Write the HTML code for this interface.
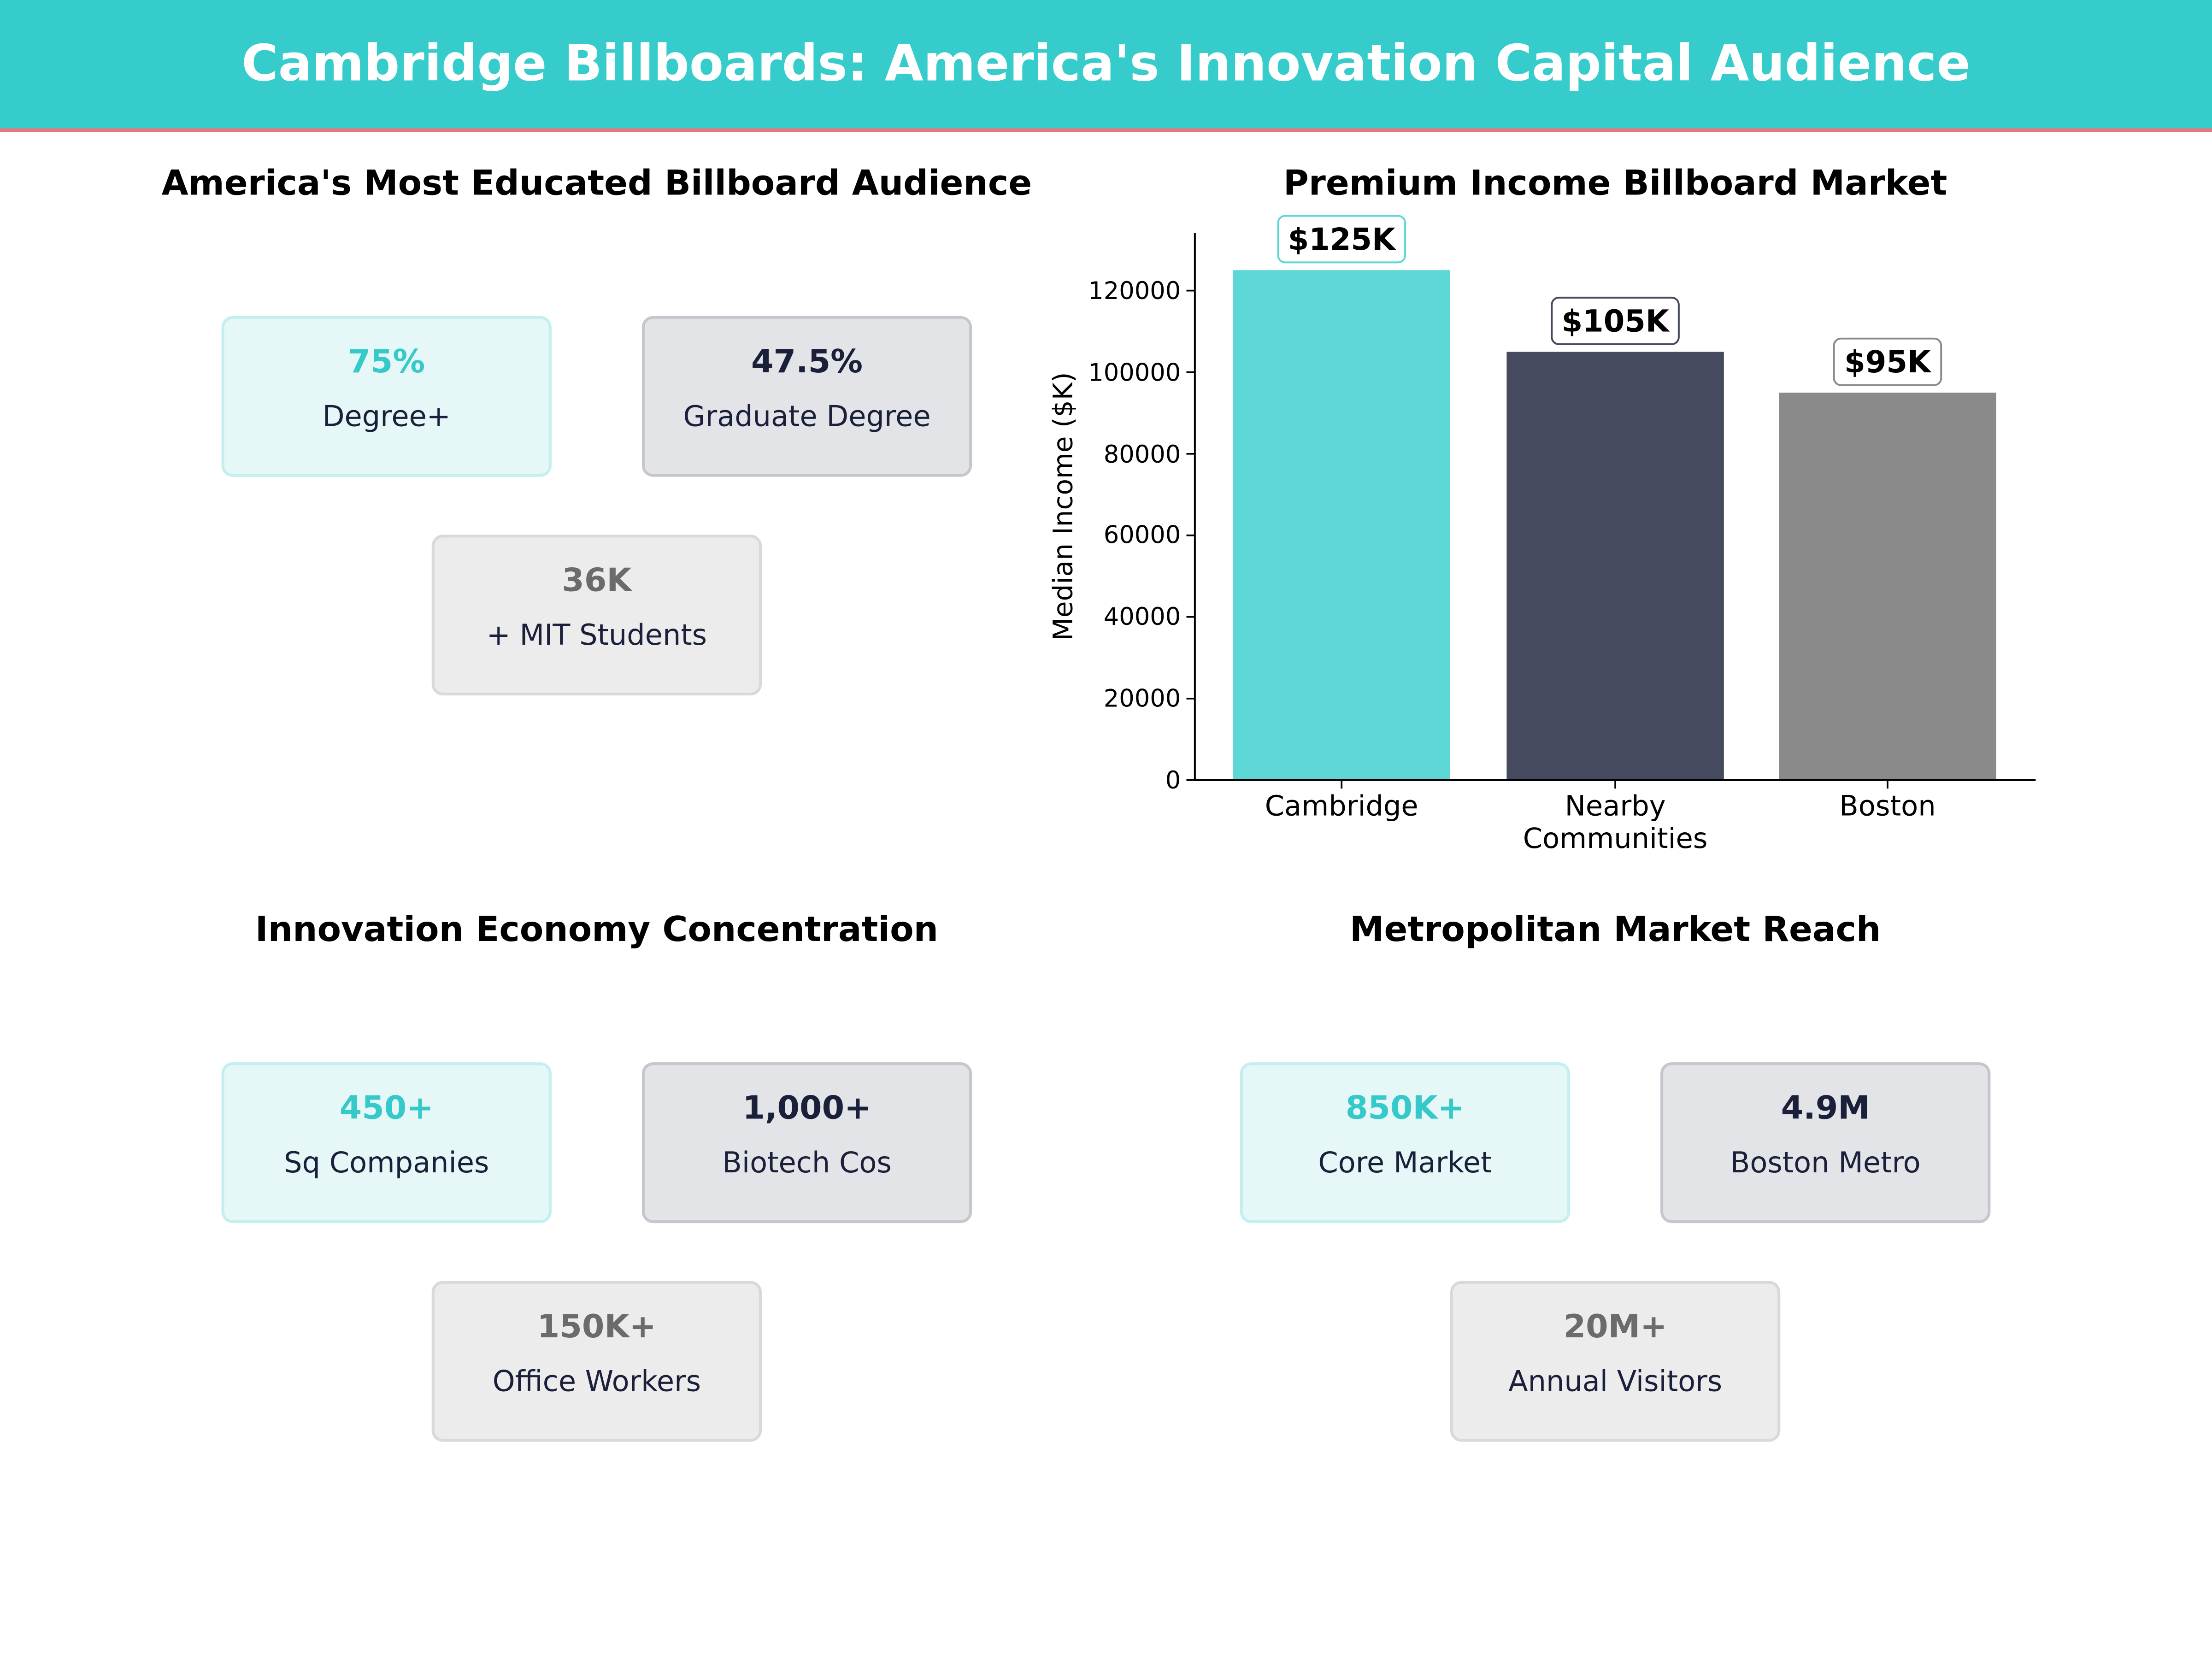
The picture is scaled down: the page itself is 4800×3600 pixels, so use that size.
<!DOCTYPE html>
<html><head><meta charset="utf-8"><style>
html,body{margin:0;padding:0;background:#fff;}
svg{display:block;}
text{font-family:"DejaVu Sans","Liberation Sans",sans-serif;}
</style></head><body>
<svg width="4800" height="3600" viewBox="0 0 1568 1176" xmlns="http://www.w3.org/2000/svg">
<rect x="0" y="0" width="1568" height="1176" fill="#fff"/>
<rect x="0" y="0" width="1568" height="92" fill="#36cccc"/>
<rect x="0" y="91" width="1568" height="2.5" fill="#e8787f"/>
<text x="784" y="57" text-anchor="middle" font-size="35.4" font-weight="bold" fill="#fff">Cambridge Billboards: America's Innovation Capital Audience</text>

<g font-size="24.5" font-weight="bold" fill="#000" text-anchor="middle">
<text x="423" y="138">America's Most Educated Billboard Audience</text>
<text x="1145" y="138">Premium Income Billboard Market</text>
<text x="423" y="667">Innovation Economy Concentration</text>
<text x="1145" y="667">Metropolitan Market Reach</text>
</g>

<g text-anchor="middle">
<rect x="158" y="225" width="232" height="112" rx="7" fill="#e6f7f7" stroke="#c5eeee" stroke-width="2"/>
<text x="274" y="264" font-size="22.8" font-weight="bold" fill="#36c9c9">75%</text>
<text x="274" y="302" font-size="20.3" fill="#1a1f3a">Degree+</text>
<rect x="456" y="225" width="232" height="112" rx="7" fill="#e3e4e8" stroke="#c6c7cc" stroke-width="2"/>
<text x="572" y="264" font-size="22.8" font-weight="bold" fill="#1a1f3a">47.5%</text>
<text x="572" y="302" font-size="20.3" fill="#1a1f3a">Graduate Degree</text>
<rect x="307" y="380" width="232" height="112" rx="7" fill="#ececec" stroke="#d9d9d9" stroke-width="2"/>
<text x="423" y="419" font-size="22.8" font-weight="bold" fill="#6b6b6b">36K</text>
<text x="423" y="457" font-size="20.3" fill="#1a1f3a">+ MIT Students</text>
<rect x="158" y="754" width="232" height="112" rx="7" fill="#e6f7f7" stroke="#c5eeee" stroke-width="2"/>
<text x="274" y="793" font-size="22.8" font-weight="bold" fill="#36c9c9">450+</text>
<text x="274" y="831" font-size="20.3" fill="#1a1f3a">Sq Companies</text>
<rect x="456" y="754" width="232" height="112" rx="7" fill="#e3e4e8" stroke="#c6c7cc" stroke-width="2"/>
<text x="572" y="793" font-size="22.8" font-weight="bold" fill="#1a1f3a">1,000+</text>
<text x="572" y="831" font-size="20.3" fill="#1a1f3a">Biotech Cos</text>
<rect x="307" y="909" width="232" height="112" rx="7" fill="#ececec" stroke="#d9d9d9" stroke-width="2"/>
<text x="423" y="948" font-size="22.8" font-weight="bold" fill="#6b6b6b">150K+</text>
<text x="423" y="986" font-size="20.3" fill="#1a1f3a">Office Workers</text>
<rect x="880" y="754" width="232" height="112" rx="7" fill="#e6f7f7" stroke="#c5eeee" stroke-width="2"/>
<text x="996" y="793" font-size="22.8" font-weight="bold" fill="#36c9c9">850K+</text>
<text x="996" y="831" font-size="20.3" fill="#1a1f3a">Core Market</text>
<rect x="1178" y="754" width="232" height="112" rx="7" fill="#e3e4e8" stroke="#c6c7cc" stroke-width="2"/>
<text x="1294" y="793" font-size="22.8" font-weight="bold" fill="#1a1f3a">4.9M</text>
<text x="1294" y="831" font-size="20.3" fill="#1a1f3a">Boston Metro</text>
<rect x="1029" y="909" width="232" height="112" rx="7" fill="#ececec" stroke="#d9d9d9" stroke-width="2"/>
<text x="1145" y="948" font-size="22.8" font-weight="bold" fill="#6b6b6b">20M+</text>
<text x="1145" y="986" font-size="20.3" fill="#1a1f3a">Annual Visitors</text>
</g>

<rect x="874" y="191.5" width="154" height="361.5" fill="#5dd8d6"/>
<rect x="1068" y="249.4" width="154" height="303.6" fill="#454a5f"/>
<rect x="1261" y="278.3" width="154" height="274.7" fill="#8a8a8a"/>
<line x1="847" y1="165" x2="847" y2="553.5" stroke="#000" stroke-width="1.3"/>
<line x1="846.5" y1="553" x2="1443" y2="553" stroke="#000" stroke-width="1.3"/>
<g font-size="17.2" text-anchor="end" fill="#000">
<g stroke="#000" stroke-width="1.2">
<line x1="841" y1="553" x2="847" y2="553"/><line x1="841" y1="495.2" x2="847" y2="495.2"/>
<line x1="841" y1="437.3" x2="847" y2="437.3"/><line x1="841" y1="379.5" x2="847" y2="379.5"/>
<line x1="841" y1="321.7" x2="847" y2="321.7"/><line x1="841" y1="263.8" x2="847" y2="263.8"/>
<line x1="841" y1="206" x2="847" y2="206"/>
<line x1="951" y1="553" x2="951" y2="559"/><line x1="1145" y1="553" x2="1145" y2="559"/><line x1="1338" y1="553" x2="1338" y2="559"/>
</g>
<text x="837" y="559">0</text>
<text x="837" y="501">20000</text>
<text x="837" y="443">40000</text>
<text x="837" y="385">60000</text>
<text x="837" y="328">80000</text>
<text x="837" y="270">100000</text>
<text x="837" y="212">120000</text>
</g>
<g font-size="19.8" text-anchor="middle" fill="#000">
<text x="951" y="578">Cambridge</text>
<text x="1145" y="578">Nearby</text>
<text x="1145" y="601">Communities</text>
<text x="1338" y="578">Boston</text>
</g>
<text transform="translate(760,359) rotate(-90)" font-size="19" text-anchor="middle" fill="#000">Median Income ($K)</text>
<g font-size="21.4" font-weight="bold" text-anchor="middle" fill="#000">
<rect x="906" y="153" width="90" height="33" rx="5" fill="#fff" stroke="#5dd8d6" stroke-width="1.3"/>
<text x="951" y="177">$125K</text>
<rect x="1100" y="211" width="90" height="33" rx="5" fill="#fff" stroke="#454a5f" stroke-width="1.3"/>
<text x="1145" y="235">$105K</text>
<rect x="1300" y="240" width="76" height="33" rx="5" fill="#fff" stroke="#8a8a8a" stroke-width="1.3"/>
<text x="1338" y="264">$95K</text>
</g>
</svg>
</body></html>
